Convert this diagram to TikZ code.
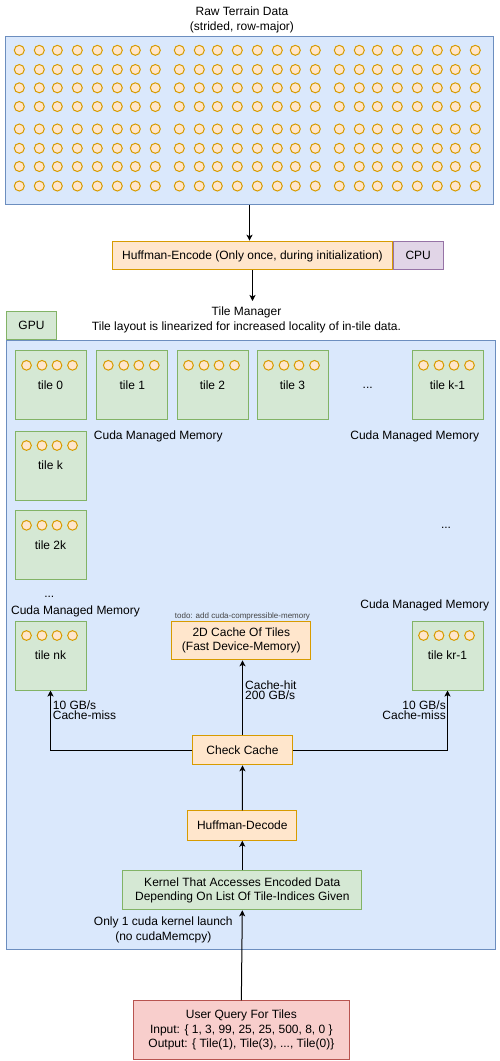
\documentclass[tikz,border=0pt]{standalone}
\usepackage{fontspec}
\setmainfont{Liberation Sans}
\usetikzlibrary{arrows.meta,calc}
\definecolor{blueL}{HTML}{DAE8FC}
\definecolor{blueD}{HTML}{6C8EBF}
\definecolor{orangeL}{HTML}{FFE6CC}
\definecolor{orangeD}{HTML}{D79B00}
\definecolor{greenL}{HTML}{D5E8D4}
\definecolor{greenD}{HTML}{82B366}
\definecolor{purpleL}{HTML}{E1D5E7}
\definecolor{purpleD}{HTML}{9673A6}
\definecolor{redL}{HTML}{F8CECC}
\definecolor{redD}{HTML}{B85450}
\definecolor{todogray}{HTML}{444444}
\newcommand\mytightlines{\lineskiplimit=-20pt\relax\lineskip=0pt\relax}
\tikzset{
  base font/.style={font=\fontsize{12}{14.7}\selectfont},
  box/.style={base font, draw, line width=1pt, inner sep=0pt, align=center},
  onel/.style={text height=8.6pt, text depth=0pt},
  orangebox/.style={box, draw=orangeD, fill=orangeL},
  greenbox/.style={box, draw=greenD, fill=greenL},
  tilebox/.style={box, onel, draw=greenD, fill=greenL, minimum width=71pt, minimum height=69pt},
  txt/.style={base font, inner sep=0pt},
  single/.style={txt, onel},
  tight/.style={font=\fontsize{12}{10}\selectfont, execute at begin node=\mytightlines, inner sep=0pt},
  dotc/.style={draw=orangeD, fill=orangeL, line width=1pt},
  arr/.style={line width=1pt, -{Stealth[length=6pt,width=6pt,inset=1.5pt]}},
}
\begin{document}
\begin{tikzpicture}[x=1pt,y=-1pt]
\useasboundingbox (0,0) rectangle (499,1061);
\fill[white] (0,0) rectangle (499,1061);

% raw terrain data
\node[txt, align=center] (title) at (242,20) {Raw Terrain Data\\(strided, row-major)};
\node[box, draw=blueD, fill=blueL, minimum width=488.6pt, minimum height=168.3pt] (raw) at (249.5,120.3) {};
\foreach \x in {19.3,39.3,57.3,77.3,97.3,117.3,135.3,155.3,179.3,199.3,217.3,237.3,257.3,277.3,295.3,315.3,339.3,359.3,377.3,397.3,417.3,437.3,455.3,475.3}
  \foreach \y in {50.3,69.5,87.8,106.5,129,148.3,166.5,186}
    \draw[dotc] (\x,\y) circle[radius=5];

% encode
\node[orangebox, onel, minimum width=279.4pt, minimum height=28.6pt] (huff) at (252.5,255.5) {Huffman-Encode (Only once, during initialization)};
\node[box, onel, draw=purpleD, fill=purpleL, minimum width=50pt, minimum height=28.6pt] (cpu) at (418.2,255.5) {CPU};
\draw[arr] (raw.south) -- (raw.south |- huff.north);
\coordinate (tmtop) at (252.5,301);
\draw[arr] (huff.south) -- (tmtop);

% GPU container
\node[txt, align=center] (tm) at (246.5,320.2) {Tile Manager\\Tile layout is linearized for increased locality of in-tile data.};
\node[box, draw=blueD, fill=blueL, minimum width=489pt, minimum height=609.3pt] (gpu) at (251.3,645.15) {};
\node[box, onel, draw=greenD, fill=greenL, minimum width=49.4pt, minimum height=28.3pt] (gputab) at (31.5,325.35) {GPU};

% tiles
\node[tilebox] (t0) at (50.5,385.3) {tile 0};
\node[tilebox] (t1) at (132.3,385.3) {tile 1};
\node[tilebox] (t2) at (212.5,385.3) {tile 2};
\node[tilebox] (t3) at (292.5,385.3) {tile 3};
\node[tilebox] (tk1) at (447.5,385.3) {tile k-1};
\node[tilebox] (tk) at (50.5,465.5) {tile k};
\node[tilebox] (t2k) at (50.5,545.3) {tile 2k};
\node[tilebox] (tnk) at (50.5,655.5) {tile nk};
\node[tilebox] (tkr) at (447.5,655.5) {tile kr-1};
\foreach \t in {t0,t1,t2,t3,tk1,tk,t2k,tnk,tkr}
  \foreach \o in {-24,-8.5,6.5,22}
    \draw[dotc] ($(\t.center)+(\o,-20)$) circle[radius=4.85];

\node[single] (dots1) at (367.7,384.4) {...};
\node[single] (dots2) at (446,524) {...};
\node[single] (dots3) at (49.3,593) {...};
\node[single] (mem1) at (158.3,435) {Cuda Managed Memory};
\node[single] (mem2) at (414.7,435) {Cuda Managed Memory};
\node[single] (mem3) at (75.5,610) {Cuda Managed Memory};
\node[single] (mem4) at (424.7,604.3) {Cuda Managed Memory};

% cache
\node[inner sep=0pt, font=\fontsize{8}{9}\selectfont, text=todogray, text height=5.7pt, text depth=0pt] (todo) at (242.5,615.7) {todo: add cuda-compressible-memory};
\node[orangebox, minimum width=139pt, minimum height=38.6pt] (c2d) at (241.3,640.5) {2D Cache Of Tiles\\(Fast Device-Memory)};
\node[orangebox, onel, minimum width=99.4pt, minimum height=29pt] (cc) at (242.5,750.3) {Check Cache};
\node[orangebox, onel, minimum width=109pt, minimum height=29.4pt] (hd) at (242.3,825.5) {Huffman-Decode};
\node[greenbox, minimum width=239pt, minimum height=39pt] (kern) at (242.3,890.3) {Kernel That Accesses Encoded Data\\Depending On List Of Tile-Indices Given};
\node[box, draw=redD, fill=redL, minimum width=216.3pt, minimum height=58.7pt] (uq) at (241.35,1030.15) {User Query For Tiles\\Input: \{ 1, 3, 99, 25, 25, 500, 8, 0 \}\\Output: \{ Tile(1), Tile(3), ..., Tile(0)\}};

\draw[arr] (cc.north) -- (cc.north |- c2d.south);
\draw[arr] (cc.west) -| (tnk.south);
\draw[arr] (cc.east) -| (tkr.south);
\draw[arr] (hd.north) -- (cc.south);
\draw[arr] (kern.north) -- (hd.south);
\draw[arr] (uq.north) -- (kern.south);

\node[tight, align=left, anchor=base west] (hitlbl) at (245,699.3) {Cache-hit\\200 GB/s};
\node[tight, align=left, anchor=base west] (missl) at (52.7,719.3) {10 GB/s\\Cache-miss};
\node[tight, align=right, anchor=base east] (missr) at (446,719.3) {10 GB/s\\Cache-miss};
\node[txt, align=center] (launch) at (163.3,930) {Only 1 cuda kernel launch\\(no cudaMemcpy)};
\end{tikzpicture}
\end{document}
